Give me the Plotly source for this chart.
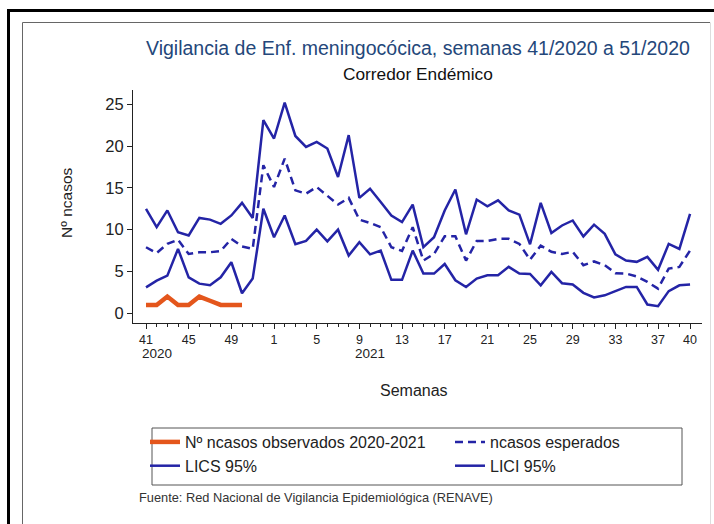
import plotly.graph_objects as go

# ---------------- data ----------------
weeks = [41, 42, 43, 44, 45, 46, 47, 48, 49, 50, 51, 52] + list(range(1, 41))

observados = [1, 1, 2, 1, 1, 2, 1.5, 1, 1, 1]

lics = [12.5, 10.3, 12.3, 9.7, 9.3, 11.4, 11.2, 10.7, 11.7, 13.2, 11.4, 23.1,
        20.9, 25.2, 21.2, 19.9, 20.5, 19.7, 16.3, 21.3, 13.8, 14.9, 13.3, 11.7,
        10.9, 13.0, 7.9, 9.1, 12.3, 14.8, 9.45, 13.6, 12.8, 13.5, 12.3, 11.8,
        8.25, 13.2, 9.6, 10.5, 11.1, 9.2, 10.6, 9.5, 7.05, 6.3, 6.15, 6.75,
        5.2, 8.3, 7.7, 11.9]

esperados = [7.9, 7.2, 8.3, 8.8, 7.1, 7.3, 7.3, 7.45, 8.9, 8.0, 7.7, 17.7,
             15.1, 18.5, 14.7, 14.3, 15.1, 14.0, 13.0, 13.8, 11.2, 10.8, 10.3, 7.9,
             7.45, 10.3, 6.3, 7.1, 9.2, 9.2, 6.3, 8.65, 8.65, 8.9, 8.9, 8.3,
             6.4, 8.1, 7.35, 7.1, 7.35, 5.75, 6.2, 5.75, 4.8, 4.75, 4.4, 3.75,
             2.95, 5.35, 5.55, 7.5]

lici = [3.1, 3.9, 4.5, 7.7, 4.3, 3.55, 3.35, 4.3, 6.1, 2.4, 4.15, 12.5,
        9.1, 11.7, 8.25, 8.65, 10.0, 8.6, 10.0, 6.9, 8.5, 7.05, 7.5, 4.0,
        4.0, 7.5, 4.75, 4.75, 5.9, 3.95, 3.15, 4.15, 4.55, 4.55, 5.55, 4.75,
        4.7, 3.35, 4.95, 3.6, 3.45, 2.45, 1.9, 2.15, 2.65, 3.15, 3.15, 1.05,
        0.85, 2.65, 3.35, 3.45]

labelled_weeks = [41, 45, 49, 1, 5, 9, 13, 17, 21, 25, 29, 33, 37, 40]
year_labels = [("2020", 42), ("2021", 10)]
yticks = [0, 5, 10, 15, 20, 25]

# ---------------- geometry helpers ----------------
W, H = 714, 524
L, R, T, B = 133, 12, 90, 201
PW, PH = W - L - R, H - T - B


def px(x):
    return (x - L) / PW


def py(y):
    return (H - B - y) / PH


idx = list(range(len(weeks)))
pos = {w: i for i, w in enumerate(weeks)}

BLUE = "#2424a6"
ORANGE = "#e4561c"
FONT = "Liberation Sans, Arial, Helvetica, sans-serif"

fig = go.Figure()
fig.add_trace(go.Scatter(x=idx, y=lics, mode="lines", name="LICS 95%",
                         line=dict(color=BLUE, width=2.5), legend="legend", legendrank=2))
fig.add_trace(go.Scatter(x=idx, y=esperados, mode="lines", name="ncasos esperados",
                         line=dict(color=BLUE, width=2.5, dash="8px,5px"),
                         legend="legend2", legendrank=1))
fig.add_trace(go.Scatter(x=idx, y=lici, mode="lines", name="LICI 95%",
                         line=dict(color=BLUE, width=2.5), legend="legend2", legendrank=2))
fig.add_trace(go.Scatter(x=idx[:len(observados)], y=observados, mode="lines",
                         name="Nº ncasos observados 2020-2021",
                         line=dict(color=ORANGE, width=4.5), legend="legend", legendrank=1))

fig.update_xaxes(
    range=[-1.22, len(weeks) - 1 + 1.12],
    tickmode="array",
    tickvals=[pos[w] for w in labelled_weeks],
    ticktext=[str(w) for w in labelled_weeks],
    ticks="outside", ticklen=5, tickwidth=1, tickcolor="#222",
    minor=dict(tickmode="array", tickvals=idx, ticks="outside", ticklen=3,
               tickwidth=1, tickcolor="#222"),
    showline=True, linecolor="#222", linewidth=1,
    showgrid=False, zeroline=False,
    tickfont=dict(size=12.5, color="#222", family=FONT),
    fixedrange=True,
)
fig.update_yaxes(
    range=[-1.16, 26.7],
    tickmode="array", tickvals=yticks,
    ticks="outside", ticklen=5, tickwidth=1, tickcolor="#222",
    showline=True, linecolor="#222", linewidth=1,
    showgrid=False, zeroline=False,
    tickfont=dict(size=16.5, color="#222", family=FONT),
    fixedrange=True,
)

annotations = [
    dict(text="Vigilancia de Enf. meningocócica, semanas 41/2020 a 51/2020",
         x=0.5, y=py(48), xref="paper", yref="paper", showarrow=False,
         xanchor="center", yanchor="middle",
         font=dict(size=19.5, color="#24477a", family=FONT)),
    dict(text="Corredor Endémico", x=0.5, y=py(74), xref="paper", yref="paper",
         showarrow=False, xanchor="center", yanchor="middle",
         font=dict(size=17.3, color="#111", family=FONT)),
    dict(text="Nº ncasos", x=px(66), y=py(203), xref="paper", yref="paper",
         showarrow=False, textangle=-90, xanchor="center", yanchor="middle",
         font=dict(size=15.5, color="#222", family=FONT)),
    dict(text="Semanas", x=px(414), y=py(390), xref="paper", yref="paper",
         showarrow=False, xanchor="center", yanchor="middle",
         font=dict(size=16, color="#222", family=FONT)),
    dict(text="Fuente: Red Nacional de Vigilancia Epidemiológica (RENAVE)",
         x=px(137), y=py(498), xref="paper", yref="paper", showarrow=False,
         xanchor="left", yanchor="middle",
         font=dict(size=12.8, color="#333", family=FONT)),
]
for txt, wk in year_labels:
    annotations.append(dict(text=txt, x=pos[wk], y=py(353), xref="x", yref="paper",
                            showarrow=False, xanchor="center", yanchor="middle",
                            font=dict(size=13.5, color="#222", family=FONT)))

shapes = [
    # outer black frame
    dict(type="rect", xref="paper", yref="paper", x0=px(8.5), x1=px(730),
         y0=py(540), y1=py(10.5), line=dict(color="black", width=3)),
    # inner grey border
    dict(type="line", xref="paper", yref="paper", x0=px(22.5), x1=px(22.5),
         y0=py(540), y1=py(22.5), line=dict(color="#666", width=1)),
    dict(type="line", xref="paper", yref="paper", x0=px(22.5), x1=px(710),
         y0=py(22.5), y1=py(22.5), line=dict(color="#666", width=1)),
    dict(type="line", xref="paper", yref="paper", x0=px(710.5), x1=px(710.5),
         y0=py(540), y1=py(22.5), line=dict(color="#ddd", width=1)),
    # legend box
    dict(type="rect", xref="paper", yref="paper", x0=px(152), x1=px(682),
         y0=py(485), y1=py(428), line=dict(color="#555", width=1)),
]

fig.update_layout(
    width=W, height=H, autosize=False,
    margin=dict(l=L, r=R, t=T, b=B, pad=0),
    paper_bgcolor="white", plot_bgcolor="white",
    font=dict(family=FONT, color="#222"),
    annotations=annotations, shapes=shapes,
    showlegend=True,
    legend=dict(x=px(145), y=py(425), xanchor="left", yanchor="top",
                orientation="v", bgcolor="rgba(0,0,0,0)", borderwidth=0,
                font=dict(size=16, color="#222", family=FONT), tracegroupgap=0),
    legend2=dict(x=px(450), y=py(425), xanchor="left", yanchor="top",
                 orientation="v", bgcolor="rgba(0,0,0,0)", borderwidth=0,
                 font=dict(size=16, color="#222", family=FONT), tracegroupgap=0),
)

fig.write_html("out.html",
               config={"displayModeBar": False},
               post_script="document.body.style.margin='0';document.body.style.padding='0';")
